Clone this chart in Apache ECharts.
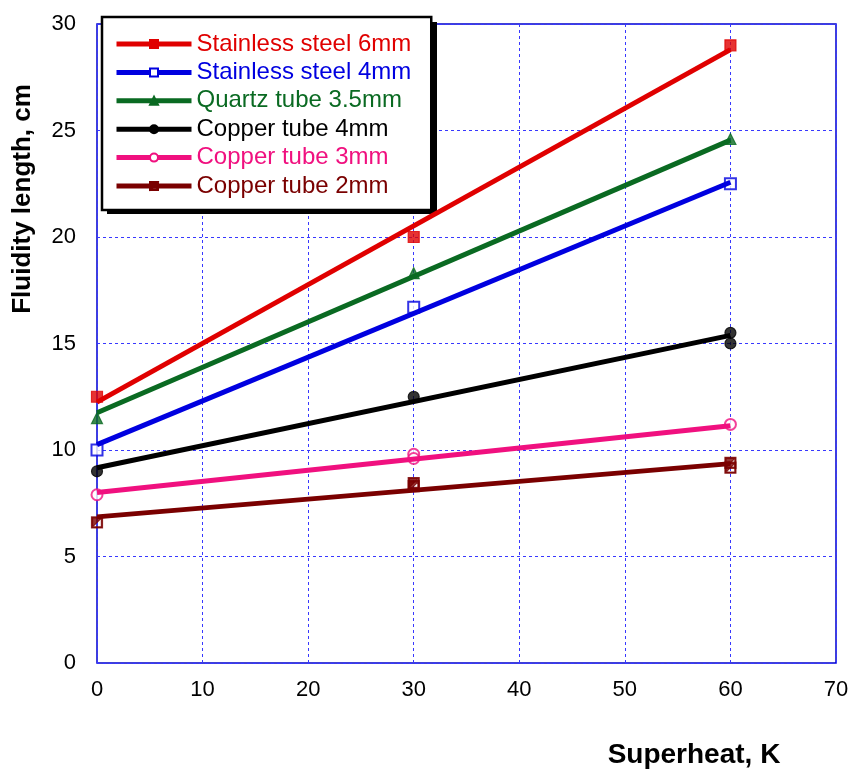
<!DOCTYPE html>
<html>
<head>
<meta charset="utf-8">
<script src="https://cdn.jsdelivr.net/npm/echarts@6/dist/echarts.min.js"></script>
<style>
    html, body { margin: 0; padding: 0; background: #fff; }
    #chart { width: 853px; height: 774px; }
</style>
</head>
<body>
<div id="chart"></div>
<script>
// 数据
const names = ['Stainless steel 6mm', 'Stainless steel 4mm', 'Quartz tube 3.5mm',
    'Copper tube 4mm', 'Copper tube 3mm', 'Copper tube 2mm']
const colors = ['#e00000', '#0000e0', '#0a6a22', '#000000', '#f0107f', '#7a0000']
const symbols = ['rect', 'emptyRect', 'triangle', 'circle', 'emptyCircle',
    'path://M0,0H10V10H0Z M1,1V9H9V1Z M1,1H9L1,9Z']

// 测量点
const ss6 = [[0, 12.5], [30, 20.0], [60, 29.0]]
const ss4 = [[0, 10.0], [30, 16.7], [60, 22.5]]
const qt35 = [[0, 11.5], [30, 18.3], [60, 24.6]]
const cu4 = [[0, 9.0], [30, 12.5], [60, 15.5], [60, 15.0]]
const cu3 = [[0, 7.9], [30, 9.8], [30, 9.6], [60, 11.2]]
const cu2 = [[0, 6.6], [30, 8.45], [30, 8.3], [60, 9.4], [60, 9.17]]
const points = [ss6, ss4, qt35, cu4, cu3, cu2]

// 拟合线端点
const fitX = [0, 60]
const fitSs6 = [12.25, 28.8]
const fitSs4 = [10.25, 22.57]
const fitQt35 = [11.75, 24.55]
const fitCu4 = [9.17, 15.38]
const fitCu3 = [8.0, 11.14]
const fitCu2 = [6.86, 9.36]
const fits = [fitSs6, fitSs4, fitQt35, fitCu4, fitCu3, fitCu2]

const font = 'Liberation Sans, Arial, sans-serif'

let series = []
names.forEach((name, i) => {
    series.push({
        name: name,
        type: 'line',
        symbol: symbols[i],
        symbolSize: 9,
        itemStyle: {color: colors[i], borderColor: colors[i], borderWidth: 1.2},
        lineStyle: {color: colors[i], width: 5},
        data: fitX.map((x, k) => ({value: [x, fits[i][k]], symbol: 'none'})),
        z: 3
    })
    series.push({
        name: name + ' pts',
        type: 'scatter',
        symbol: symbols[i],
        symbolSize: 11,
        itemStyle: {color: colors[i], borderColor: colors[i], borderWidth: 1.2},
        data: points[i],
        z: 2
    })
})

let myChart = echarts.init(document.getElementById('chart'))

let option = {
    animation: false,
    grid: {
        left: 97, right: 17, top: 24, bottom: 111,
        show: true,
        borderColor: '#0000cc',
        borderWidth: 1.5
    },
    legend: {
        data: names.map((n, i) => ({name: n, textStyle: {color: colors[i]}})),
        orient: 'vertical',
        left: 102,
        top: 17,
        padding: [14, 20, 11, 12],
        itemWidth: 75,
        itemHeight: 10,
        itemGap: 2.4,
        backgroundColor: '#fff',
        borderColor: '#000',
        borderWidth: 2.5,
        lineStyle: {width: 5},
        textStyle: {fontFamily: font, fontSize: 24, lineHeight: 26}
    },
    xAxis: {
        type: 'value',
        min: 0, max: 70, interval: 10,
        axisLine: {show: false},
        axisTick: {show: false},
        axisLabel: {color: '#000', fontFamily: font, fontSize: 22, margin: 16},
        splitLine: {lineStyle: {color: '#3838ff', type: [3, 3], width: 1}}
    },
    yAxis: {
        type: 'value',
        min: 0, max: 30, interval: 5,
        axisLine: {show: false},
        axisTick: {show: false},
        axisLabel: {color: '#000', fontFamily: font, fontSize: 22, margin: 21},
        splitLine: {lineStyle: {color: '#3838ff', type: [3, 3], width: 1}}
    },
    graphic: [
        {
            // 图例阴影
            type: 'rect', z: 3,
            shape: {x: 107, y: 22, width: 330, height: 192},
            style: {fill: '#000'}
        },
        {
            type: 'text', x: 23, y: 199, rotation: Math.PI / 2,
            style: {text: 'Fluidity length, cm', fontFamily: font, fontSize: 26, fontWeight: 'bold',
                fill: '#000', align: 'center', verticalAlign: 'middle'}
        },
        {
            type: 'text', x: 694, y: 755,
            style: {text: 'Superheat, K', fontFamily: font, fontSize: 28, fontWeight: 'bold',
                fill: '#000', align: 'center', verticalAlign: 'middle'}
        }
    ],
    series: series
}

myChart.setOption(option)
</script>
</body>
</html>
